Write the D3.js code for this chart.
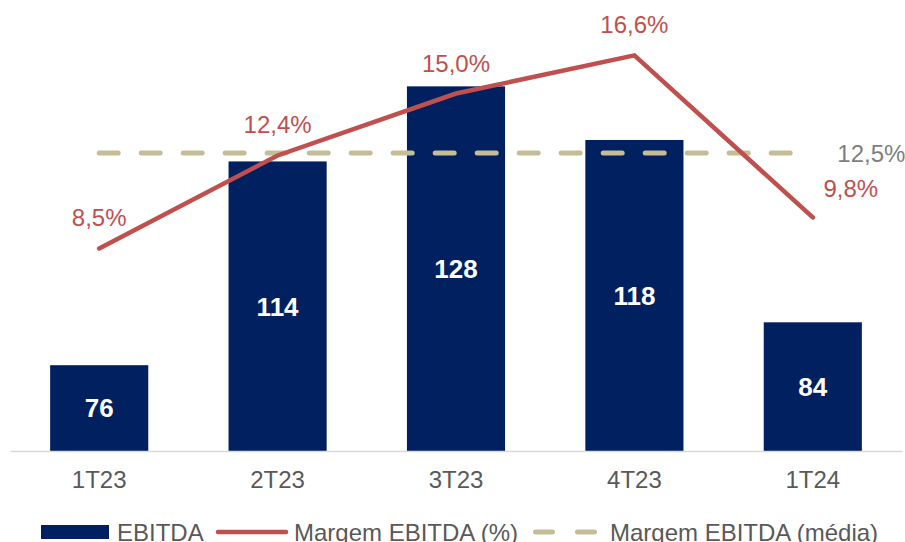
<!DOCTYPE html>
<html>
<head>
<meta charset="utf-8">
<script src="https://cdn.jsdelivr.net/npm/d3@7"></script>
<style>
html,body{margin:0;padding:0;background:#fff;}
svg{display:block;font-family:"Liberation Sans",Arial,sans-serif;}
</style>
</head>
<body>
<svg id="chart" width="905" height="542"></svg>
<script>
const categories = ["1T23","2T23","3T23","4T23","1T24"];
const ebitda = [76,114,128,118,84];
const margem = [8.5,12.4,15.0,16.6,9.8];
const margemMedia = 12.5;
const seriesNames = ["EBITDA","Margem EBITDA (%)","Margem EBITDA (média)"];

const fmtPct = v => d3.format(".1f")(v).replace(".", ",") + "%";

const svg = d3.select("#chart");
const plotTop = 22, plotBottom = 451, plotLeft = 10, plotRight = 902;

const x = d3.scaleBand().domain(categories).range([plotLeft, plotRight]).paddingInner(0.45).paddingOuter(0.225);
const y = d3.scaleLinear().domain([60,140]).range([plotBottom, plotTop]);
const y2 = d3.scaleLinear().domain([0,18]).range([plotBottom, plotTop]);
const cx = c => x(c) + x.bandwidth()/2;

const navy = "#002060", red = "#C0504D", tan = "#C4BD97", gray = "#595959";

// bars
svg.append("g").selectAll("rect").data(categories).join("rect")
  .attr("x", c => x(c)).attr("width", x.bandwidth())
  .attr("y", (c,i) => y(ebitda[i])).attr("height", (c,i) => plotBottom - y(ebitda[i]))
  .attr("fill", navy);

// x axis
const xAxis = svg.append("g").attr("transform", `translate(0,${plotBottom})`)
  .call(d3.axisBottom(x).tickSize(0).tickPadding(20));
xAxis.select(".domain").attr("stroke", "#d9d9d9").attr("stroke-width", 1.5);
xAxis.selectAll("text").attr("font-size", 24).attr("fill", gray)
  .attr("font-family", "'Liberation Sans',Arial,sans-serif");

// bar labels
svg.append("g").selectAll("text").data(categories).join("text")
  .attr("x", cx).attr("y", (c,i) => (y(ebitda[i]) + plotBottom)/2)
  .attr("dy", "0.36em").attr("text-anchor", "middle")
  .attr("fill", "#fff").attr("font-weight", "bold").attr("font-size", 26)
  .text((c,i) => ebitda[i]);

// average dashed line
svg.append("line")
  .attr("x1", cx(categories[0])).attr("x2", cx(categories[categories.length-1]))
  .attr("y1", y2(margemMedia)).attr("y2", y2(margemMedia))
  .attr("stroke", tan).attr("stroke-width", 5).attr("stroke-linecap", "round")
  .attr("stroke-dasharray", "19,23");

// margin line
const line = d3.line().x((d,i) => cx(categories[i])).y(d => y2(d));
svg.append("path").datum(margem).attr("d", line)
  .attr("fill", "none").attr("stroke", red).attr("stroke-width", 4.5)
  .attr("stroke-linejoin", "miter").attr("stroke-linecap", "round");

// margin labels
svg.append("g").selectAll("text").data(margem).join("text")
  .attr("x", (d,i) => i === margem.length-1 ? cx(categories[i]) + 38 : cx(categories[i]))
  .attr("y", (d,i) => i === margem.length-1 ? y2(d) - 20 : y2(d) - 22)
  .attr("text-anchor", "middle")
  .attr("fill", red).attr("font-size", 24)
  .text(d => fmtPct(d));

// average label
svg.append("text")
  .attr("x", cx(categories[categories.length-1]) + 24.5).attr("y", y2(margemMedia))
  .attr("dy", "0.36em").attr("fill", "#7f7f7f").attr("font-size", 24)
  .text(fmtPct(margemMedia));

// legend
const ly = 532;
const lg = svg.append("g").attr("font-size", 24).attr("fill", gray);
lg.append("rect").attr("x", 41).attr("y", ly-7).attr("width", 68).attr("height", 14).attr("fill", navy);
lg.append("text").attr("x", 117).attr("y", ly).attr("dy", "0.36em").attr("fill", gray).text(seriesNames[0]);
lg.append("line").attr("x1", 218).attr("x2", 286).attr("y1", ly).attr("y2", ly)
  .attr("stroke", red).attr("stroke-width", 4.5).attr("stroke-linecap", "round");
lg.append("text").attr("x", 294).attr("y", ly).attr("dy", "0.36em").attr("fill", gray).text(seriesNames[1]);
lg.append("line").attr("x1", 535.5).attr("x2", 595.5).attr("y1", ly).attr("y2", ly)
  .attr("stroke", tan).attr("stroke-width", 5).attr("stroke-linecap", "round")
  .attr("stroke-dasharray", "17,25");
lg.append("text").attr("x", 610).attr("y", ly).attr("dy", "0.36em").attr("fill", gray).text(seriesNames[2]);
</script>
</body>
</html>
